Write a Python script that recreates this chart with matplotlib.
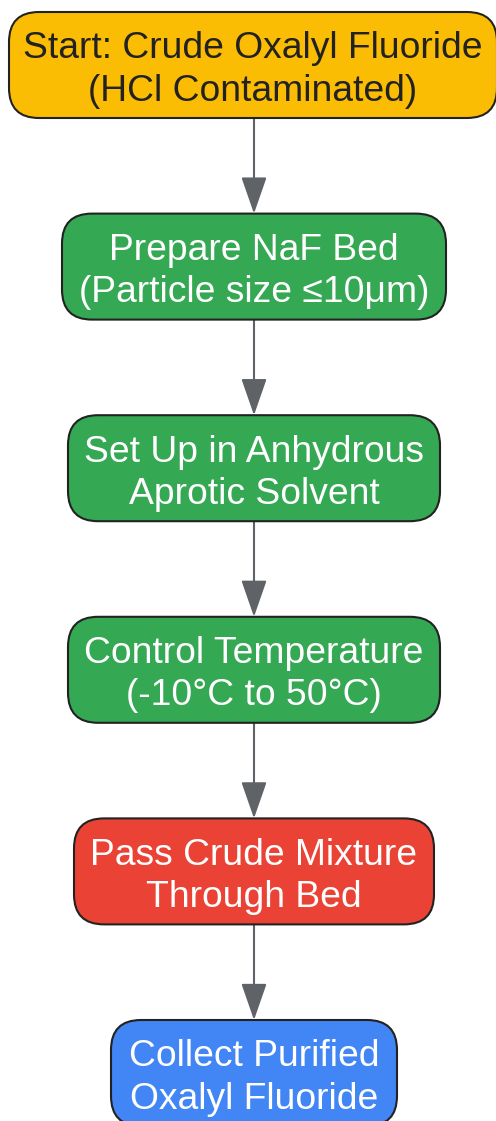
import matplotlib
matplotlib.use("Agg")
import matplotlib.pyplot as plt
from matplotlib.patches import FancyBboxPatch, FancyArrowPatch

# flow steps
labels = [
    "Start: Crude Oxalyl Fluoride\n(HCl Contaminated)",
    "Prepare NaF Bed\n(Particle size \u226410\u03bcm)",
    "Set Up in Anhydrous\nAprotic Solvent",
    "Control Temperature\n(-10\u00b0C to 50\u00b0C)",
    "Pass Crude Mixture\nThrough Bed",
    "Collect Purified\nOxalyl Fluoride",
]
fill_colors = ["#FBBC04", "#34A853", "#34A853", "#34A853", "#EA4335", "#4285F4"]
text_colors = ["#222222", "white", "white", "white", "white", "white"]

# layout (pixels)
W, H = 496, 1121
box_widths = [488, 384, 372, 372, 360, 286]
box_h = 106
top0 = 12
step = 201.6
cx = 254

plt.rcParams['font.family'] = ['Liberation Sans', 'DejaVu Sans']

fig = plt.figure(figsize=(W / 100, H / 100), dpi=100)
ax = fig.add_axes([0, 0, 1, 1])
ax.set_xlim(0, W)
ax.set_ylim(H, 0)
ax.axis('off')

tops = [top0 + i * step for i in range(len(labels))]
for i, lab in enumerate(labels):
    w = box_widths[i]
    x0 = cx - w / 2
    if i == 0:
        x0 = 9
    box = FancyBboxPatch((x0, tops[i]), w, box_h,
                         boxstyle="round,pad=0,rounding_size=30",
                         fc=fill_colors[i], ec="#222222", lw=1.5, zorder=2)
    ax.add_patch(box)
    ax.text(x0 + w / 2 if i == 0 else cx, tops[i] + box_h / 2 + 5, lab,
            ha='center', va='center', fontsize=26.8, color=text_colors[i],
            linespacing=1.26, zorder=3)

for i in range(len(labels) - 1):
    y_start = tops[i] + box_h
    y_end = tops[i + 1]
    arr = FancyArrowPatch((cx, y_start), (cx, y_end),
                          arrowstyle="-|>,head_length=23,head_width=8",
                          mutation_scale=1, shrinkA=0, shrinkB=0,
                          color="#5f6368", lw=1.5, zorder=1)
    ax.add_patch(arr)

fig.savefig("out.png", dpi=100)
